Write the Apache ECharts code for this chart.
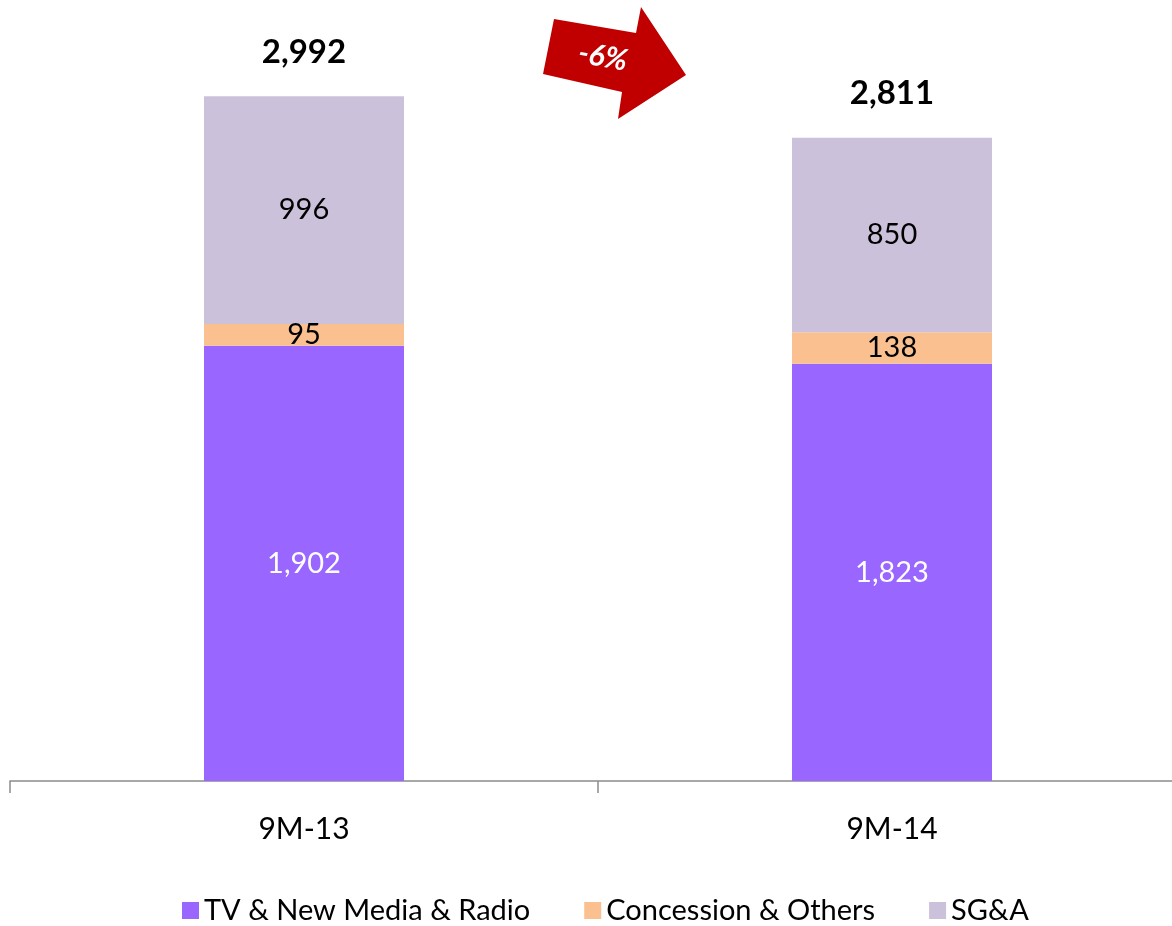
<!DOCTYPE html>
<html>
<head>
<meta charset="utf-8">
<script src="https://cdn.jsdelivr.net/npm/echarts@6/dist/echarts.min.js"></script>
<style>
html,body{margin:0;padding:0;background:#fff;}
#chart{width:1172px;height:926px;}
</style>
</head>
<body>
<div id="chart"></div>
<script>
const categories = ['9M-13', '9M-14'];
const tvNewMediaRadio = [1902, 1823];
const concessionOthers = [95, 138];
const sga = [996, 850];
const totals = [2992, 2811];
const changeLabel = '-6%';

const FONT = 'Lato';
const chart = echarts.init(document.getElementById('chart'), null, {renderer: 'canvas'});

function fmt(v) { return v.toLocaleString('en-US'); }

const option = {
  backgroundColor: '#ffffff',
  animation: false,
  textStyle: {fontFamily: FONT},
  grid: {left: 10, width: 1176, top: 3, bottom: 145, containLabel: false, outerBoundsMode: 'none'},
  xAxis: {
    type: 'category',
    data: categories,
    axisLine: {lineStyle: {color: '#8c8c8c', width: 1.5}},
    axisTick: {show: true, length: 12, lineStyle: {color: '#8c8c8c', width: 1.5}},
    axisLabel: {color: '#000', fontSize: 30, fontFamily: FONT, margin: 33}
  },
  yAxis: {
    type: 'value', min: 0, max: 3400, show: false,
    splitLine: {show: false}
  },
  legend: {
    top: 891,
    left: 177,
    itemWidth: 17, itemHeight: 17, itemGap: 54,
    icon: 'rect',
    textStyle: {fontSize: 29, color: '#000', fontFamily: FONT},
    data: ['TV & New Media & Radio', 'Concession & Others', 'SG&A']
  },
  series: [
    {
      name: 'TV & New Media & Radio', type: 'bar', stack: 'cost', barWidth: 200,
      data: tvNewMediaRadio,
      itemStyle: {color: '#9966FF'},
      label: {show: true, position: 'inside', color: '#ffffff', fontSize: 29, fontFamily: FONT,
        formatter: p => fmt(p.value)}
    },
    {
      name: 'Concession & Others', type: 'bar', stack: 'cost', barWidth: 200,
      data: concessionOthers,
      itemStyle: {color: '#FAC090'},
      label: {show: true, position: 'inside', color: '#000000', fontSize: 29, fontFamily: FONT,
        formatter: p => fmt(p.value)}
    },
    {
      name: 'SG&A', type: 'bar', stack: 'cost', barWidth: 200,
      data: sga,
      itemStyle: {color: '#CCC1DA'},
      label: {show: true, position: 'inside', color: '#000000', fontSize: 29, fontFamily: FONT,
        formatter: p => fmt(p.value)}
    },
    {
      name: 'Total', type: 'scatter', symbolSize: 0,
      data: totals,
      itemStyle: {color: 'transparent', opacity: 1},
      label: {show: true, position: 'top', distance: 28, color: '#000000', fontSize: 33,
        fontWeight: 'bold', fontFamily: FONT, formatter: p => fmt(p.value)},
      silent: true
    }
  ],
  graphic: [
    {
      type: 'polygon',
      shape: {points: [[554,19],[636,33],[641,7],[686,75],[618,119],[622,92],[543,74]]},
      style: {fill: '#C00000'}
    },
    {
      type: 'text',
      x: 603, y: 57, rotation: -0.18,
      style: {text: changeLabel, fill: '#ffffff', fontSize: 30, fontWeight: 'bold', fontStyle: 'italic',
        fontFamily: FONT, textAlign: 'center', textVerticalAlign: 'middle'}
    }
  ]
};
chart.setOption(option);
</script>
</body>
</html>
